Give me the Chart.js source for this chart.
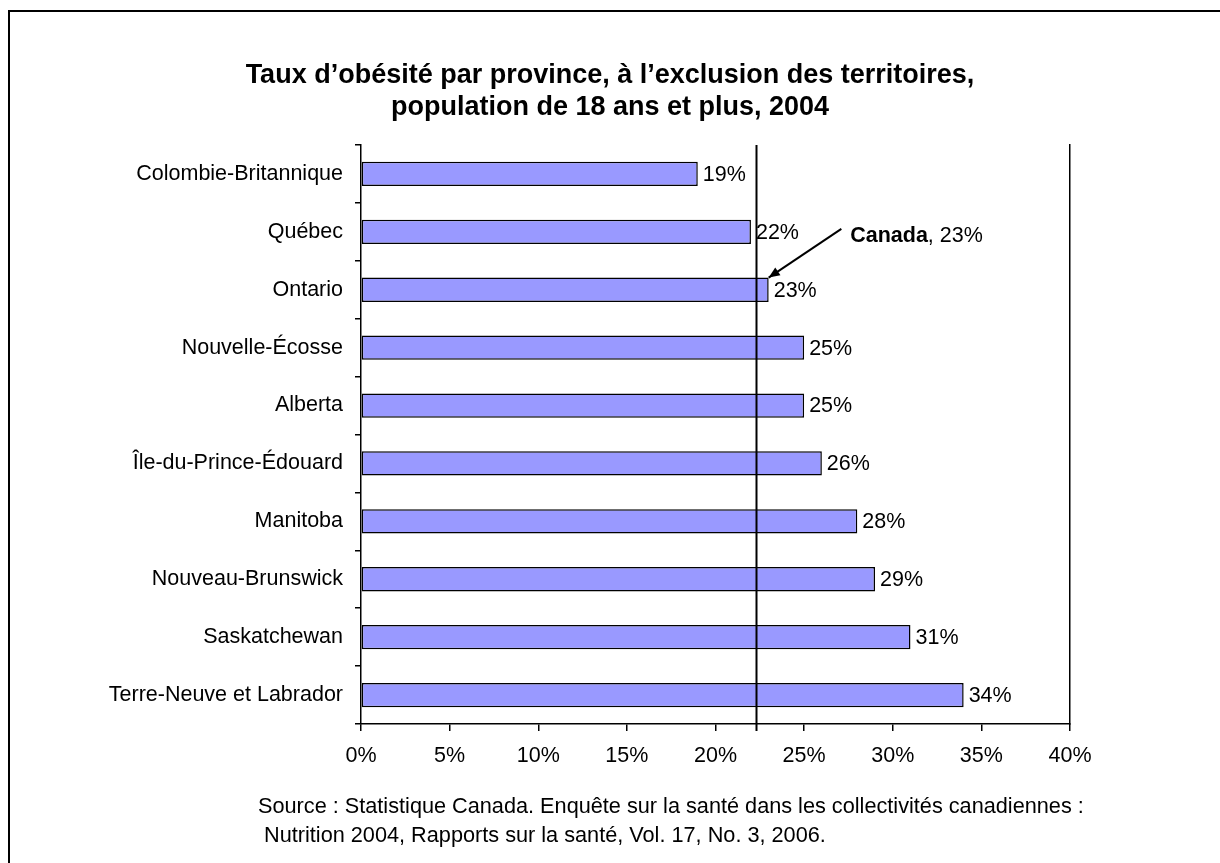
<!DOCTYPE html>
<html lang="fr">
<head>
<meta charset="utf-8">
<title>Taux d'obésité par province</title>
<script src="https://cdn.jsdelivr.net/npm/chart.js@4.4.1/dist/chart.umd.min.js"></script>
<style>
  html, body { margin: 0; padding: 0; background: #fff; }
  #wrap { position: relative; width: 1220px; height: 863px; overflow: hidden; }
  #frame { position: absolute; left: 8px; top: 10px; width: 1300px; height: 900px;
           border-top: 2px solid #000; border-left: 2px solid #000; }
  #chart { position: absolute; left: 0; top: 0; }
  #source { position: absolute; left: 258px; top: 791px; font: 21.7px "Liberation Sans", Arial, sans-serif;
            line-height: 29px; color: #000; white-space: pre; }
</style>
</head>
<body>
<div id="wrap">
  <div id="frame"></div>
  <canvas id="chart" width="1220" height="863"></canvas>
  <div id="source">Source : Statistique Canada. Enquête sur la santé dans les collectivités canadiennes :
 Nutrition 2004, Rapports sur la santé, Vol. 17, No. 3, 2006.</div>
</div>
<script>
var provinces = ["Colombie-Britannique", "Québec", "Ontario", "Nouvelle-Écosse", "Alberta",
                 "Île-du-Prince-Édouard", "Manitoba", "Nouveau-Brunswick", "Saskatchewan",
                 "Terre-Neuve et Labrador"];
var obesityRates = [19, 22, 23, 25, 25, 26, 28, 29, 31, 34];
var canadaRate = 23;
var canadaLine = 22.3;   // where the reference line is drawn
var xTicks = [0, 5, 10, 15, 20, 25, 30, 35, 40];

var FONT = '"Liberation Sans", Arial, sans-serif';
var TXT = 21.5;

var overlay = {
  id: 'overlay',
  afterDatasetsDraw: function(chart) {
    var ctx = chart.ctx, x = chart.scales.x, y = chart.scales.y, area = chart.chartArea;
    ctx.save();
    // value labels
    ctx.font = TXT + 'px ' + FONT;
    ctx.fillStyle = '#000';
    ctx.textBaseline = 'middle';
    ctx.textAlign = 'left';
    var meta = chart.getDatasetMeta(0);
    meta.data.forEach(function(bar, i) {
      ctx.fillText(obesityRates[i] + '%', bar.x + 5, bar.y + 1);
    });
    // Canada reference line
    var cx = Math.round(x.getPixelForValue(canadaLine)) + 0.5;
    ctx.strokeStyle = '#000';
    ctx.lineWidth = 2;
    ctx.beginPath();
    ctx.moveTo(cx, area.top);
    ctx.lineTo(cx, area.bottom + 7);
    ctx.stroke();
    // annotation text
    var ontario = meta.data[2];
    var tx = x.getPixelForValue(27.6), ty = y.getPixelForValue(1) + 4;
    ctx.font = 'bold ' + TXT + 'px ' + FONT;
    ctx.fillText('Canada', tx, ty);
    var w = ctx.measureText('Canada').width;
    ctx.font = TXT + 'px ' + FONT;
    ctx.fillText(', ' + canadaRate + '%', tx + w, ty);
    // arrow
    var ax0 = x.getPixelForValue(27.1), ay0 = ty - 7;
    var ax1 = ontario.x, ay1 = ontario.y - ontario.height / 2;
    ctx.lineWidth = 2;
    ctx.beginPath();
    ctx.moveTo(ax0, ay0);
    ctx.lineTo(ax1, ay1);
    ctx.stroke();
    var ang = Math.atan2(ay1 - ay0, ax1 - ax0), L = 12, spread = 0.4;
    ctx.beginPath();
    ctx.moveTo(ax1, ay1);
    ctx.lineTo(ax1 - L * Math.cos(ang - spread), ay1 - L * Math.sin(ang - spread));
    ctx.lineTo(ax1 - L * Math.cos(ang + spread), ay1 - L * Math.sin(ang + spread));
    ctx.closePath();
    ctx.fillStyle = '#000';
    ctx.fill();
    ctx.restore();
  }
};

var chart = new Chart(document.getElementById('chart'), {
  type: 'bar',
  data: {
    labels: provinces,
    datasets: [{
      data: obesityRates,
      backgroundColor: '#9999FF',
      borderColor: '#000',
      borderWidth: 1.5,
      borderSkipped: false,
      barPercentage: 0.42,
      categoryPercentage: 1
    }]
  },
  options: {
    indexAxis: 'y',
    responsive: false,
    animation: false,
    events: [],
    layout: { padding: 0 },
    plugins: {
      legend: { display: false },
      tooltip: { enabled: false },
      title: {
        display: true,
        text: ['Taux d\u2019obésité par province, à l\u2019exclusion des territoires,',
               'population de 18 ans et plus, 2004'],
        color: '#000',
        font: { family: FONT, size: 27, weight: 'bold', lineHeight: '32px' },
        padding: { top: 60, bottom: 21 }
      }
    },
    scales: {
      x: {
        min: 0, max: 40,
        afterFit: function(s) { s.height = 139; },
        afterBuildTicks: function(s) { s.ticks = xTicks.map(function(v) { return { value: v }; }); },
        ticks: {
          color: '#000',
          font: { family: FONT, size: TXT },
          padding: 12,
          maxRotation: 0,
          callback: function(v) { return v + '%'; }
        },
        grid: { drawOnChartArea: false, color: '#000', tickLength: 7, lineWidth: 1.5 },
        border: { color: '#000', width: 1.5 }
      },
      y: {
        afterFit: function(s) { s.width = 361; },
        ticks: { color: '#000', font: { family: FONT, size: TXT }, padding: 12 },
        grid: { drawOnChartArea: false, color: '#000', tickLength: 6, lineWidth: 1.5, offset: true },
        border: { color: '#000', width: 1.5 }
      },
      y2: {
        type: 'linear',
        position: 'right',
        display: true,
        min: 0, max: 1,
        afterFit: function(s) { s.width = 150; },
        ticks: { display: false },
        grid: { display: false },
        border: { color: '#000', width: 1.5 }
      }
    }
  },
  plugins: [overlay]
});
</script>
</body>
</html>
